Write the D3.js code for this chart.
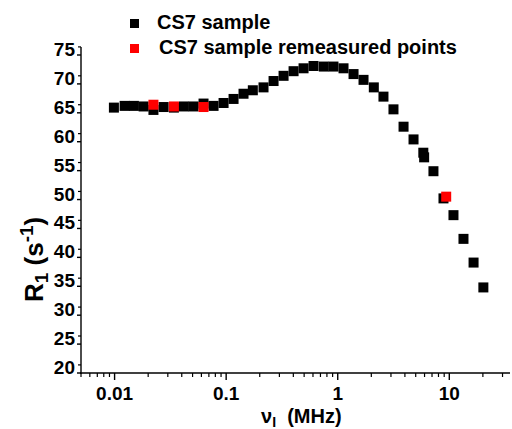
<!DOCTYPE html>
<html><head><meta charset="utf-8">
<script src="https://cdn.jsdelivr.net/npm/d3@7/dist/d3.min.js"></script>
<style>body{margin:0;background:#fff}svg{display:block;font-family:"Liberation Sans",Arial,sans-serif;font-weight:bold}</style>
</head><body>
<script>
// CS7 sample (black)
const freqBlack = [0.00986,0.0123,0.0149,0.0182,0.0223,0.0275,0.0340,0.0418,0.0510,0.0627,0.0771,0.0948,0.1165,0.1431,0.1734,0.2162,0.266,0.327,0.402,0.494,0.607,0.750,0.916,1.127,1.386,1.703,2.106,2.570,3.16,3.89,4.78,5.85,5.95,7.21,8.87,10.9,13.4,16.5,20.2];
const r1Black   = [65.9,66.2,66.2,66.1,65.5,66.0,65.9,66.1,66.1,66.6,66.2,66.7,67.4,68.3,68.9,69.4,70.5,71.4,72.2,72.7,73.1,73.0,73.0,72.7,71.7,70.7,69.4,67.8,65.6,62.6,60.4,58.1,57.3,54.9,50.2,47.3,43.2,39.1,34.8];
// CS7 sample remeasured points (red)
const freqRed = [0.0223,0.0340,0.0627,9.38];
const r1Red   = [66.4,66.1,66.0,50.5];
const yTicks = [20,25,30,35,40,45,50,55,60,65,70,75];
const xTicks = [0.01,0.1,1,10];
const xTickLabels = ["0.01","0.1","1","10"];
const legendLabels = ["CS7 sample","CS7 sample remeasured points"];

const W=512,H=429;
const svg=d3.select("body").append("svg").attr("width",W).attr("height",H);
const x=d3.scaleLog().domain([0.005,35]).range([81,510]);
const y=d3.scaleLinear().domain([20,75]).range([373,55]);

// x axis
const gx=svg.append("g");
gx.append("line").attr("x1",80).attr("x2",510).attr("y1",373).attr("y2",373).attr("stroke","#000").attr("stroke-width",1.4);
const minor=[];
for(let e=-3;e<=1;e++){for(let m=2;m<=9;m++){const v=m*Math.pow(10,e);if(v>=0.005&&v<=35)minor.push(v);}}
gx.selectAll("line.mn").data(minor).join("line").attr("class","mn")
  .attr("x1",d=>x(d)).attr("x2",d=>x(d)).attr("y1",373).attr("y2",377).attr("stroke","#000").attr("stroke-width",1.2);
gx.selectAll("line.mj").data(xTicks).join("line").attr("class","mj")
  .attr("x1",d=>x(d)).attr("x2",d=>x(d)).attr("y1",373).attr("y2",380).attr("stroke","#000").attr("stroke-width",1.4);
gx.selectAll("text").data(xTicks).join("text")
  .attr("x",d=>x(d)).attr("y",400).attr("text-anchor","middle").attr("font-size",19).text((d,i)=>xTickLabels[i]);

// y axis
const gy=svg.append("g");
gy.append("line").attr("x1",81).attr("x2",81).attr("y1",47).attr("y2",374).attr("stroke","#000").attr("stroke-width",1.4);
gy.selectAll("line.mj").data(yTicks).join("line").attr("class","mj")
  .attr("x1",77).attr("x2",81).attr("y1",d=>y(d)).attr("y2",d=>y(d)).attr("stroke","#000").attr("stroke-width",1.4);
gy.selectAll("line.mn").data(yTicks).join("line").attr("class","mn")
  .attr("x1",78).attr("x2",81).attr("y1",d=>y(d+1.4)).attr("y2",d=>y(d+1.4)).attr("stroke","#000").attr("stroke-width",1.2);
gy.selectAll("text").data(yTicks).join("text")
  .attr("x",75).attr("y",d=>y(d)+1).attr("text-anchor","end").attr("font-size",19).text(d=>d);

// titles
const xt=svg.append("text").attr("x",261).attr("y",423).attr("font-size",20);
xt.append("tspan").text("ν");
xt.append("tspan").attr("font-size",14).attr("dy",4).text("I");
xt.append("tspan").attr("dy",-4).text("  (MHz)").attr("xml:space","preserve");
const yt=svg.append("text").attr("transform","translate(43,302) rotate(-90)").attr("font-size",26);
yt.append("tspan").text("R");
yt.append("tspan").attr("font-size",19).attr("dy",5).text("1");
yt.append("tspan").attr("dy",-5).text(" (s");
yt.append("tspan").attr("font-size",19).attr("dy",-10).text("-1");
yt.append("tspan").attr("dy",10).text(")");

// data
const s=10;
svg.append("g").selectAll("rect").data(freqBlack.map((f,i)=>[f,r1Black[i]])).join("rect")
  .attr("x",d=>x(d[0])-s/2).attr("y",d=>y(d[1])-s/2).attr("width",s).attr("height",s).attr("fill","#000");
svg.append("g").selectAll("rect").data(freqRed.map((f,i)=>[f,r1Red[i]])).join("rect")
  .attr("x",d=>x(d[0])-s/2).attr("y",d=>y(d[1])-s/2).attr("width",s).attr("height",s).attr("fill","#ff0000");

// legend
const lg=svg.append("g");
const lcol=["#000","#ff0000"];
lg.selectAll("rect").data(legendLabels).join("rect")
  .attr("x",130).attr("y",(d,i)=>19+i*25).attr("width",9).attr("height",9).attr("fill",(d,i)=>lcol[i]);
lg.selectAll("text").data(legendLabels).join("text")
  .attr("x",(d,i)=>157+i*2).attr("y",(d,i)=>28.5+i*25).attr("font-size",20).text(d=>d);
</script>
</body></html>
